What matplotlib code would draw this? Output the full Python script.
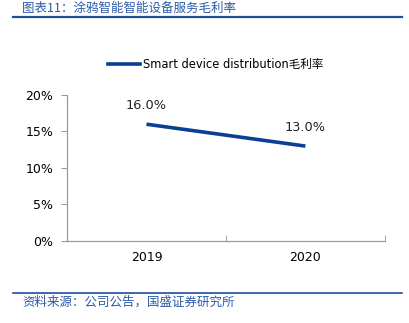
import numpy as np
import matplotlib.pyplot as plt
from matplotlib.lines import Line2D

plt.rcParams['font.family'] = ['DejaVu Sans', 'Noto Sans CJK SC']

# donnees
years = ["2019", "2020"]
marge = [16.0, 13.0]
serie = "Smart device distribution毛利率"
titre = "图表11：涂鸦智能智能设备服务毛利率"
source = "资料来源：公司公告，国盛证券研究所"

bleu = "#0a3f96"
bleu_titre = "#2b5aa8"
fs = 8.6

fig = plt.figure(figsize=(4.09, 3.23), dpi=100)
ax = fig.add_axes([0.1638, 0.2539, 0.7772, 0.452])

x = np.arange(len(years))
ax.plot(x, marge, color=bleu, lw=2.6, solid_capstyle='butt')
for xi, v in zip(x, marge):
    ax.annotate(f"{v:.1f}%", (xi, v), xytext=(0, 9), textcoords='offset points',
                ha='center', va='bottom', fontsize=9.3, color='#222222')

ax.set_xlim(-0.5, len(years) - 0.5)
ax.set_ylim(0, 20)
ax.set_yticks(np.arange(0, 21, 5))
ax.set_yticklabels([f"{t}%" for t in range(0, 21, 5)], fontsize=fs + 0.4)

# categories centrees, petits traits aux limites
ax.set_xticks(x)
ax.set_xticklabels(years, fontsize=fs + 0.4)
ax.tick_params(axis='x', length=0, pad=7)
ax.set_xticks([-0.5, 0.5, 1.5], minor=True)
ax.tick_params(axis='x', which='minor', direction='in', length=4, color='#999999')
ax.tick_params(axis='y', direction='out', length=4, color='#999999', pad=6)

for s in ['top', 'right']:
    ax.spines[s].set_visible(False)
for s in ['left', 'bottom']:
    ax.spines[s].set_color('#999999')
    ax.spines[s].set_linewidth(0.9)

handle = Line2D([0], [0], color=bleu, lw=2.6)
fig.legend([handle], [serie], loc='center', bbox_to_anchor=(0.528, 0.8),
           frameon=False, fontsize=8.3, handlelength=2.75, handletextpad=0.3)

# titre et source
fig.text(0.054, 0.995, titre, fontsize=9, color=bleu_titre, style='italic',
         family=['Noto Sans CJK SC'], va='top', ha='left')
fig.add_artist(Line2D([0.032, 0.983], [0.947, 0.947], color='#1f4e9c', lw=1.6))
fig.add_artist(Line2D([0.032, 0.983], [0.093, 0.093], color='#1f4e9c', lw=1.2))
fig.text(0.054, 0.085, source, fontsize=9, color=bleu_titre, style='italic',
         family=['Noto Sans CJK SC'], va='top', ha='left')

fig.savefig("out.png", dpi=100)
